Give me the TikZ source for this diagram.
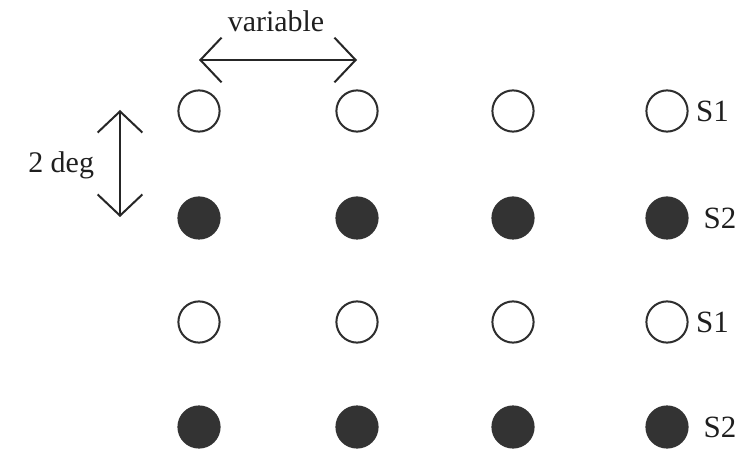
\documentclass[tikz,border=0pt]{standalone}
\usepackage{fontspec}
\setmainfont{Liberation Serif}
\usetikzlibrary{arrows.meta,positioning}

\begin{document}
\begin{tikzpicture}[
    x=1cm,y=1cm,
    >={Straight Barb[length=0.53cm,width=1.12cm]},
    opendot/.style={
        circle,
        draw=black!82,
        line width=0.05cm,
        fill=white,
        minimum size=1.03cm,
        inner sep=0pt
    },
    fulldot/.style={
        circle,
        fill=black!80,
        minimum size=1.08cm,
        inner sep=0pt
    },
    span/.style={<->, line width=0.05cm, draw=black!85},
    lbl/.style={font=\fontsize{21.3}{25}\selectfont, text=black!88, inner sep=0pt},
    rowlbl/.style={font=\fontsize{22}{26}\selectfont, text=black!88, inner sep=0pt}
]

% -----------------------------------------------------------------------------
% Frame
% -----------------------------------------------------------------------------
\useasboundingbox[fill=white] (0,0) rectangle (18.5,11.225);

% -----------------------------------------------------------------------------
% Stimulus rows
% -----------------------------------------------------------------------------
\foreach \c/\x in {1/4.975,2/8.925,3/12.825,4/16.675} {
    \node[opendot] (a\c) at (\x,8.45) {};
    \node[fulldot] (b\c) at (\x,5.775) {};
    \node[opendot] (c\c) at (\x,3.175) {};
    \node[fulldot] (d\c) at (\x,0.55) {};
}

\node[rowlbl, right=0.18cm of a4] (s1a) {S1};
\node[rowlbl, right=0.36cm of b4] (s2a) {S2};
\node[rowlbl, right=0.18cm of c4] (s1b) {S1};
\node[rowlbl, right=0.36cm of d4] (s2b) {S2};

% -----------------------------------------------------------------------------
% Separations
% -----------------------------------------------------------------------------
\coordinate (varL) at (4.975,9.725);
\coordinate (varR) at (8.925,9.725);
\draw[span] (varL) -- (varR);
\node[lbl, anchor=base] (varlbl) at (6.9,10.43) {variable};

\coordinate (degT) at (3.0,8.475);
\coordinate (degB) at (3.0,5.80);
\draw[span] (degT) -- (degB);
\node[lbl, anchor=base west] (deglbl) at (0.7,6.9) {2 deg};

\end{tikzpicture}
\end{document}
